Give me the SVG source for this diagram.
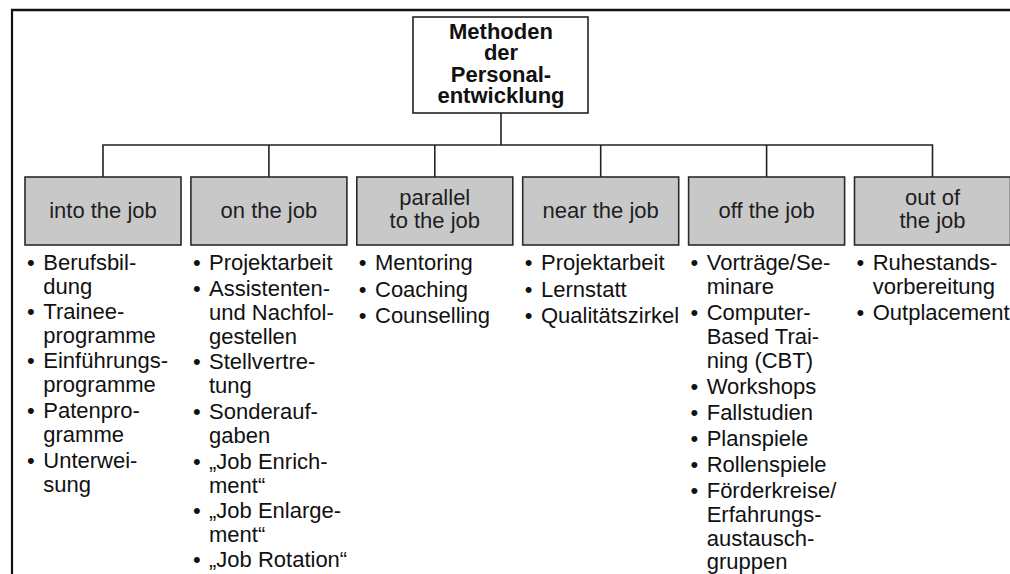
<svg xmlns="http://www.w3.org/2000/svg" width="1010" height="574" viewBox="0 0 1010 574">
  <style>
    .frame { stroke: #111; fill: none; }
    .root rect { fill: #ffffff; stroke: #222; stroke-width: 1.6; }
    .root text { font-family: "Liberation Sans", Arial, sans-serif; font-weight: bold; font-size: 22px; fill: #111; text-anchor: middle; }
    .cat rect { fill: #c8c8c8; stroke: #2a2a2a; stroke-width: 1.6; }
    .cat .head { font-family: "Liberation Sans", Arial, sans-serif; font-size: 22px; fill: #1e1e1e; text-anchor: middle; }
    .cat .item { font-family: "Liberation Sans", Arial, sans-serif; font-size: 22px; fill: #111; }
    .links path { stroke: #222; stroke-width: 1.6; fill: none; }
  </style>

  <!-- page frame: top rule and left rule -->
  <g id="frame">
    <line class="frame" x1="11" y1="10" x2="1010" y2="10" stroke-width="2.6"/>
    <line class="frame" x1="12" y1="9" x2="12" y2="574" stroke-width="2.2"/>
  </g>

  <!-- connectors -->
  <g id="connectors" class="links">
    <path d="M501 113 V145"/>
    <path d="M103 177 V145 H932.5 V177"/>
    <path d="M268.9 145 V177"/>
    <path d="M434.8 145 V177"/>
    <path d="M600.7 145 V177"/>
    <path d="M766.6 145 V177"/>
  </g>

  <!-- root node -->
  <g id="root" class="root">
    <rect x="413" y="17" width="175" height="96"/>
    <text x="501" y="38.5">Methoden</text>
    <text x="501" y="60">der</text>
    <text x="501" y="81.5">Personal-</text>
    <text x="501" y="103">entwicklung</text>
  </g>

  <!-- into the job -->
  <g id="into" class="cat">
    <rect x="25" y="177" width="156" height="68"/>
    <text class="head" x="103" y="218">into the job</text>
    <text class="item" x="27" y="270">•</text><text class="item" x="43.3" y="270">Berufsbil-</text>
    <text class="item" x="43.3" y="294">dung</text>
    <text class="item" x="27" y="319">•</text><text class="item" x="43.3" y="319">Trainee-</text>
    <text class="item" x="43.3" y="343">programme</text>
    <text class="item" x="27" y="368">•</text><text class="item" x="43.3" y="368">Einführungs-</text>
    <text class="item" x="43.3" y="392">programme</text>
    <text class="item" x="27" y="418">•</text><text class="item" x="43.3" y="418">Patenpro-</text>
    <text class="item" x="43.3" y="442">gramme</text>
    <text class="item" x="27" y="468">•</text><text class="item" x="43.3" y="468">Unterwei-</text>
    <text class="item" x="43.3" y="492">sung</text>
  </g>

  <!-- on the job -->
  <g id="on" class="cat">
    <rect x="190.9" y="177" width="156" height="68"/>
    <text class="head" x="268.9" y="218">on the job</text>
    <text class="item" x="192.9" y="270">•</text><text class="item" x="209" y="270">Projektarbeit</text>
    <text class="item" x="192.9" y="296">•</text><text class="item" x="209" y="296">Assistenten-</text>
    <text class="item" x="209" y="320">und Nachfol-</text>
    <text class="item" x="209" y="344">gestellen</text>
    <text class="item" x="192.9" y="369">•</text><text class="item" x="209" y="369">Stellvertre-</text>
    <text class="item" x="209" y="393">tung</text>
    <text class="item" x="192.9" y="419">•</text><text class="item" x="209" y="419">Sonderauf-</text>
    <text class="item" x="209" y="443">gaben</text>
    <text class="item" x="192.9" y="469">•</text><text class="item" x="209" y="469">„Job Enrich-</text>
    <text class="item" x="209" y="493">ment“</text>
    <text class="item" x="192.9" y="518">•</text><text class="item" x="209" y="518">„Job Enlarge-</text>
    <text class="item" x="209" y="542">ment“</text>
    <text class="item" x="192.9" y="567">•</text><text class="item" x="209" y="567">„Job Rotation“</text>
  </g>

  <!-- parallel to the job -->
  <g id="parallel" class="cat">
    <rect x="356.8" y="177" width="156" height="68"/>
    <text class="head" x="434.8" y="205">parallel</text>
    <text class="head" x="434.8" y="227.5">to the job</text>
    <text class="item" x="358.8" y="270">•</text><text class="item" x="375" y="270">Mentoring</text>
    <text class="item" x="358.8" y="296.5">•</text><text class="item" x="375" y="296.5">Coaching</text>
    <text class="item" x="358.8" y="323">•</text><text class="item" x="375" y="323">Counselling</text>
  </g>

  <!-- near the job -->
  <g id="near" class="cat">
    <rect x="522.7" y="177" width="156" height="68"/>
    <text class="head" x="600.7" y="218">near the job</text>
    <text class="item" x="524.7" y="270">•</text><text class="item" x="541" y="270">Projektarbeit</text>
    <text class="item" x="524.7" y="296.5">•</text><text class="item" x="541" y="296.5">Lernstatt</text>
    <text class="item" x="524.7" y="323">•</text><text class="item" x="541" y="323">Qualitätszirkel</text>
  </g>

  <!-- off the job -->
  <g id="off" class="cat">
    <rect x="688.6" y="177" width="156" height="68"/>
    <text class="head" x="766.6" y="218">off the job</text>
    <text class="item" x="690.6" y="270">•</text><text class="item" x="706.7" y="270">Vorträge/Se-</text>
    <text class="item" x="706.7" y="294">minare</text>
    <text class="item" x="690.6" y="320">•</text><text class="item" x="706.7" y="320">Computer-</text>
    <text class="item" x="706.7" y="344">Based Trai-</text>
    <text class="item" x="706.7" y="368">ning (CBT)</text>
    <text class="item" x="690.6" y="394">•</text><text class="item" x="706.7" y="394">Workshops</text>
    <text class="item" x="690.6" y="420">•</text><text class="item" x="706.7" y="420">Fallstudien</text>
    <text class="item" x="690.6" y="446">•</text><text class="item" x="706.7" y="446">Planspiele</text>
    <text class="item" x="690.6" y="472">•</text><text class="item" x="706.7" y="472">Rollenspiele</text>
    <text class="item" x="690.6" y="498">•</text><text class="item" x="706.7" y="498">Förderkreise/</text>
    <text class="item" x="706.7" y="522">Erfahrungs-</text>
    <text class="item" x="706.7" y="546">austausch-</text>
    <text class="item" x="706.7" y="569">gruppen</text>
  </g>

  <!-- out of the job -->
  <g id="out" class="cat">
    <rect x="854.5" y="177" width="156" height="68"/>
    <text class="head" x="932.5" y="205">out of</text>
    <text class="head" x="932.5" y="227.5">the job</text>
    <text class="item" x="856.5" y="270">•</text><text class="item" x="872.7" y="270">Ruhestands-</text>
    <text class="item" x="872.7" y="294">vorbereitung</text>
    <text class="item" x="856.5" y="320">•</text><text class="item" x="872.7" y="320">Outplacement</text>
  </g>
</svg>
